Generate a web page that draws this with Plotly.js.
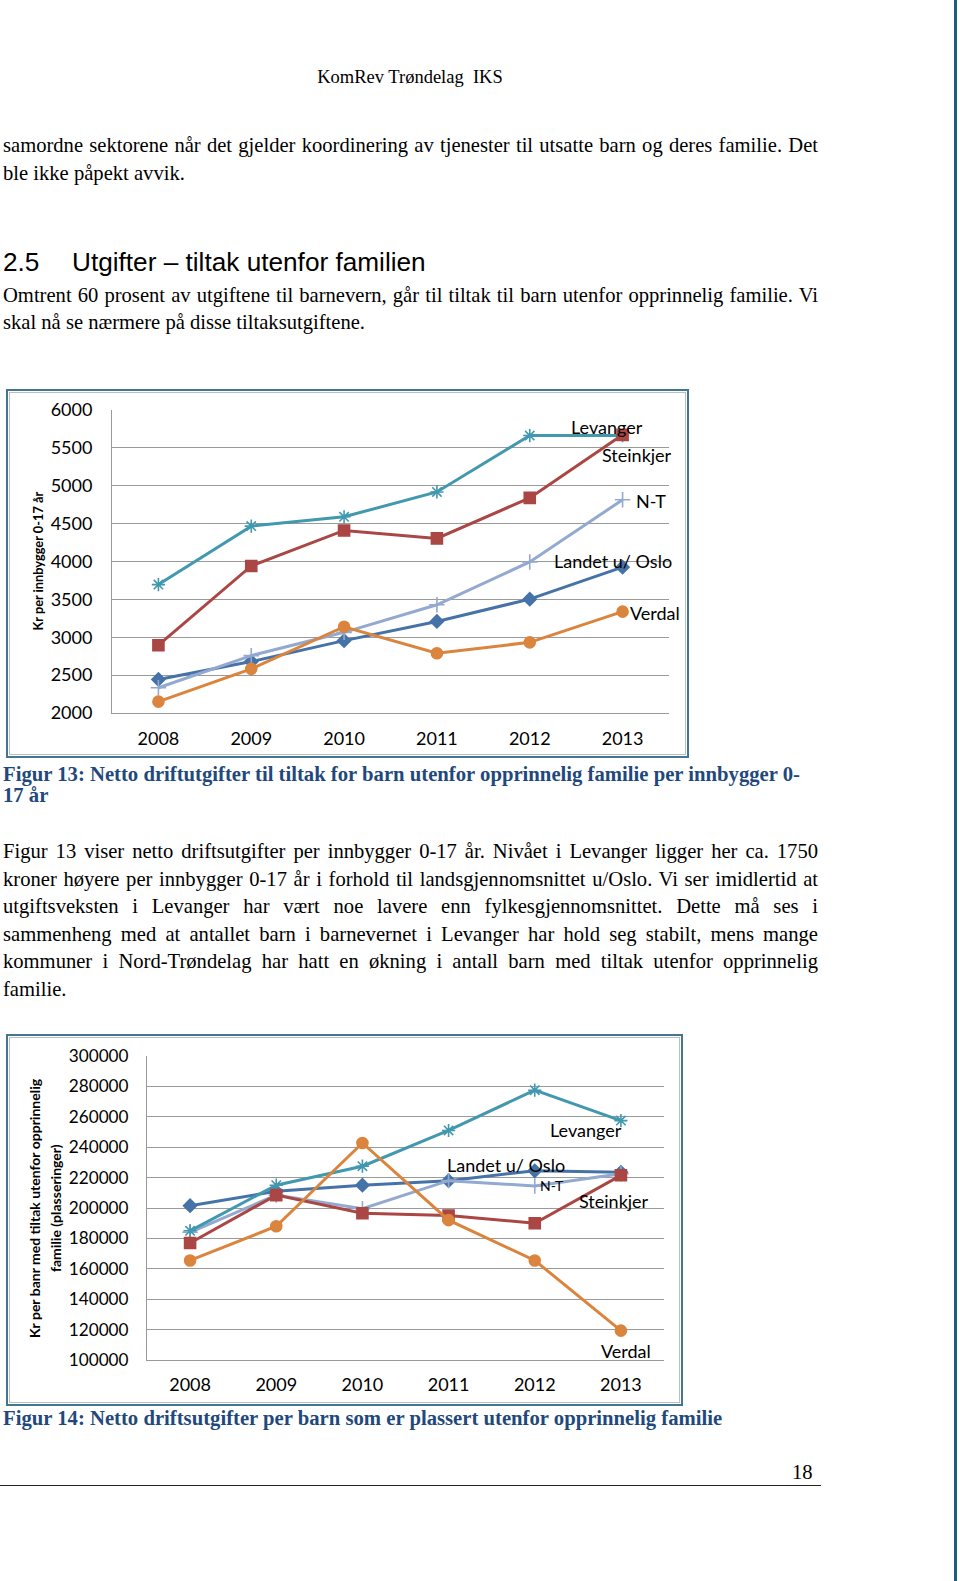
<!DOCTYPE html>
<html>
<head>
<meta charset="utf-8">
<script src="https://cdn.plot.ly/plotly-3.0.1.min.js"></script>
<style>
  html, body { margin:0; padding:0; background:#fff; }
  body { width:960px; height:1581px; position:relative; overflow:hidden; font-family:"Liberation Serif","Times New Roman",serif; color:#000; }
  .abs { position:absolute; }
  .txt { font-size:20.6px; line-height:27.4px; white-space:nowrap; }
  .jl { text-align:justify; text-align-last:justify; width:815px; }
  .cap { font-weight:bold; color:#1F497D; font-size:20.7px; line-height:21px; white-space:nowrap; }
  .box { border:2px solid #46758f; box-shadow: inset 0 0 0 1px #fff, inset 0 0 0 2px #b4c0ca; box-sizing:border-box; }
</style>
</head>
<body>
<div class="abs" style="left:954px;top:0;width:3px;height:1581px;background:#1f5b80;"></div>

<div class="abs txt" style="left:0;width:820px;top:64px;text-align:center;font-size:18.5px;">KomRev Trøndelag&nbsp; IKS</div>

<div class="abs txt jl" style="left:3px;top:132px;">samordne sektorene når det gjelder koordinering av tjenester til utsatte barn og deres familie. Det</div>
<div class="abs txt" style="left:3px;top:160px;">ble ikke påpekt avvik.</div>

<div class="abs" style="left:3px;top:246px;font-family:'Liberation Sans',Arial,sans-serif;font-size:26.2px;line-height:32px;white-space:nowrap;">2.5<span style="position:absolute;left:69px;">Utgifter – tiltak utenfor familien</span></div>

<div class="abs txt jl" style="left:3px;top:282px;">Omtrent 60 prosent av utgiftene til barnevern, går til tiltak til barn utenfor opprinnelig familie. Vi</div>
<div class="abs txt" style="left:3px;top:309px;">skal nå se nærmere på disse tiltaksutgiftene.</div>

<div class="abs box" style="left:6px;top:389px;width:683px;height:369px;"></div>
<div id="fig13" class="abs" style="left:6px;top:389px;width:683px;height:369px;"></div>

<div class="abs cap" style="left:3px;top:764px;">Figur 13: Netto driftutgifter til tiltak for barn utenfor opprinnelig familie per innbygger 0-<br>17 år</div>

<div class="abs txt jl" style="left:3px;top:838px;">Figur 13 viser netto driftsutgifter per innbygger 0-17 år. Nivået i Levanger ligger her ca. 1750</div>
<div class="abs txt jl" style="left:3px;top:865.5px;">kroner høyere per innbygger 0-17 år i forhold til landsgjennomsnittet u/Oslo. Vi ser imidlertid at</div>
<div class="abs txt jl" style="left:3px;top:893px;">utgiftsveksten i Levanger har vært noe lavere enn fylkesgjennomsnittet. Dette må ses i</div>
<div class="abs txt jl" style="left:3px;top:920.5px;">sammenheng med at antallet barn i barnevernet i Levanger har hold seg stabilt, mens mange</div>
<div class="abs txt jl" style="left:3px;top:948px;">kommuner i Nord-Trøndelag har hatt en økning i antall barn med tiltak utenfor opprinnelig</div>
<div class="abs txt" style="left:3px;top:975.5px;">familie.</div>

<div class="abs box" style="left:6px;top:1034px;width:677px;height:372px;"></div>
<div id="fig14" class="abs" style="left:6px;top:1034px;width:677px;height:372px;"></div>

<div class="abs cap" style="left:3px;top:1408px;">Figur 14: Netto driftsutgifter per barn som er plassert utenfor opprinnelig familie</div>

<div class="abs txt" style="left:792px;top:1459px;">18</div>
<div class="abs" style="left:0;top:1485px;width:821px;height:1px;background:#222;"></div>

<script>
// ---------- data ----------
var years = [2008, 2009, 2010, 2011, 2012, 2013];
var yearLabels = ['2008', '2009', '2010', '2011', '2012', '2013'];

// Figur 13: kr per innbygger 0-17 år
var f13Landet    = [2443, 2679, 2955, 3209, 3503, 3925];
var f13NT        = [2333, 2758, 3065, 3429, 3994, 4815];
var f13Levanger  = [3695, 4467, 4590, 4918, 5663, 5663];
var f13Steinkjer = [2895, 3941, 4410, 4305, 4840, 5672];
var f13Verdal    = [2150, 2583, 3139, 2789, 2933, 3338];

// Figur 14: kr per barn med tiltak utenfor opprinnelig familie
var f14Landet    = [201500, 211000, 215000, 218000, 224500, 223500];
var f14NT        = [184000, 208500, 199500, 218000, 214500, 222500];
var f14Levanger  = [185000, 215000, 227500, 251000, 277500, 257500];
var f14Steinkjer = [177000, 208500, 196500, 195000, 190000, 221500];
var f14Verdal    = [165500, 188000, 242800, 192000, 165500, 119300];

var seriesNames = ['Landet u/ Oslo', 'N-T', 'Levanger', 'Steinkjer', 'Verdal'];

// ---------- styles ----------
var colors  = {'Landet u/ Oslo':'#4572A7', 'N-T':'#93A9CF', 'Levanger':'#4198AF', 'Steinkjer':'#AA4643', 'Verdal':'#DB843D'};
var symbols = {'Landet u/ Oslo':'diamond', 'N-T':'cross-thin-open', 'Levanger':'asterisk-open', 'Steinkjer':'square', 'Verdal':'circle'};
var msizes  = {'Landet u/ Oslo':10, 'N-T':11, 'Levanger':11, 'Steinkjer':11, 'Verdal':11};

function makeTraces(vals) {
  return seriesNames.map(function(n, i) {
    return {
      x: years, y: vals[i], type:'scatter', mode:'lines+markers', name:n,
      line:{color:colors[n], width:3},
      marker:{symbol:symbols[n], size:msizes[n], color:colors[n], line:{color:colors[n], width:1.6}},
      hoverinfo:'skip'
    };
  });
}

var FONT = 'Lato, "Open Sans", sans-serif';

function baseLayout(w, h, m, yr, dtick, xstand, ystand) {
  return {
    width:w, height:h, margin:m, showlegend:false,
    paper_bgcolor:'rgba(0,0,0,0)', plot_bgcolor:'rgba(0,0,0,0)',
    font:{family:FONT, size:18, color:'#000'},
    xaxis:{range:[2007.5, 2013.5], tickvals:years, ticktext:yearLabels, showgrid:false, zeroline:false,
           showline:true, linecolor:'#9a9a9a', linewidth:1, ticks:'', ticklabelstandoff:xstand,
           tickfont:{family:FONT, size:18, color:'#000'}, fixedrange:true},
    yaxis:{range:yr, dtick:dtick, tick0:yr[0], tickformat:'d', showgrid:true, gridcolor:'#9a9a9a', gridwidth:1, zeroline:false,
           showline:true, linecolor:'#9a9a9a', linewidth:1, ticks:'', ticklabelstandoff:ystand,
           tickfont:{family:FONT, size:18, color:'#000'}, fixedrange:true},
    annotations:[]
  };
}

function lab(text, x, y, size) {
  return {text:text, x:x, y:y, xref:'x', yref:'y', showarrow:false, xanchor:'center', yanchor:'middle',
          font:{family:FONT, size:size || 18, color:'#000'}};
}

// ---------- Figur 13 ----------
var L13 = baseLayout(683, 369, {l:106, r:20, t:21, b:45}, [2000, 6000], 500, 9, 15);
L13.annotations = [
  lab('Levanger', 2012.83, 5776),
  lab('Steinkjer', 2013.15, 5406),
  lab('N-T', 2013.31, 4799),
  lab('Landet u/ Oslo', 2012.9, 4007),
  lab('Verdal', 2013.35, 3320),
  {text:'<b>Kr per innbygger 0-17 år</b>', xref:'paper', yref:'paper', x:0, y:0.5, xshift:-75,
   textangle:-90, showarrow:false, xanchor:'center', yanchor:'middle', font:{family:FONT, size:12.8, color:'#000'}}
];
Plotly.newPlot('fig13', makeTraces([f13Landet, f13NT, f13Levanger, f13Steinkjer, f13Verdal]), L13, {staticPlot:true, displayModeBar:false});

// ---------- Figur 14 ----------
var L14 = baseLayout(677, 372, {l:141, r:19, t:22, b:46}, [100000, 300000], 20000, 8, 14);
L14.yaxis.tickfont.size = 17.2;
L14.annotations = [
  lab('Levanger', 2012.59, 251300),
  lab('Landet u/ Oslo', 2011.67, 228300),
  lab('N-T', 2012.2, 214500, 14),
  lab('Steinkjer', 2012.92, 204600),
  lab('Verdal', 2013.06, 105900),
  {text:'<b>Kr per banr med tiltak utenfor opprinnelig</b>', xref:'paper', yref:'paper', x:0, y:0.5, xshift:-113,
   textangle:-90, showarrow:false, xanchor:'center', yanchor:'middle', font:{family:FONT, size:14, color:'#000'}},
  {text:'<b>familie (plasseringer)</b>', xref:'paper', yref:'paper', x:0, y:0.5, xshift:-92,
   textangle:-90, showarrow:false, xanchor:'center', yanchor:'middle', font:{family:FONT, size:14, color:'#000'}}
];
Plotly.newPlot('fig14', makeTraces([f14Landet, f14NT, f14Levanger, f14Steinkjer, f14Verdal]), L14, {staticPlot:true, displayModeBar:false});
</script>
</body>
</html>
